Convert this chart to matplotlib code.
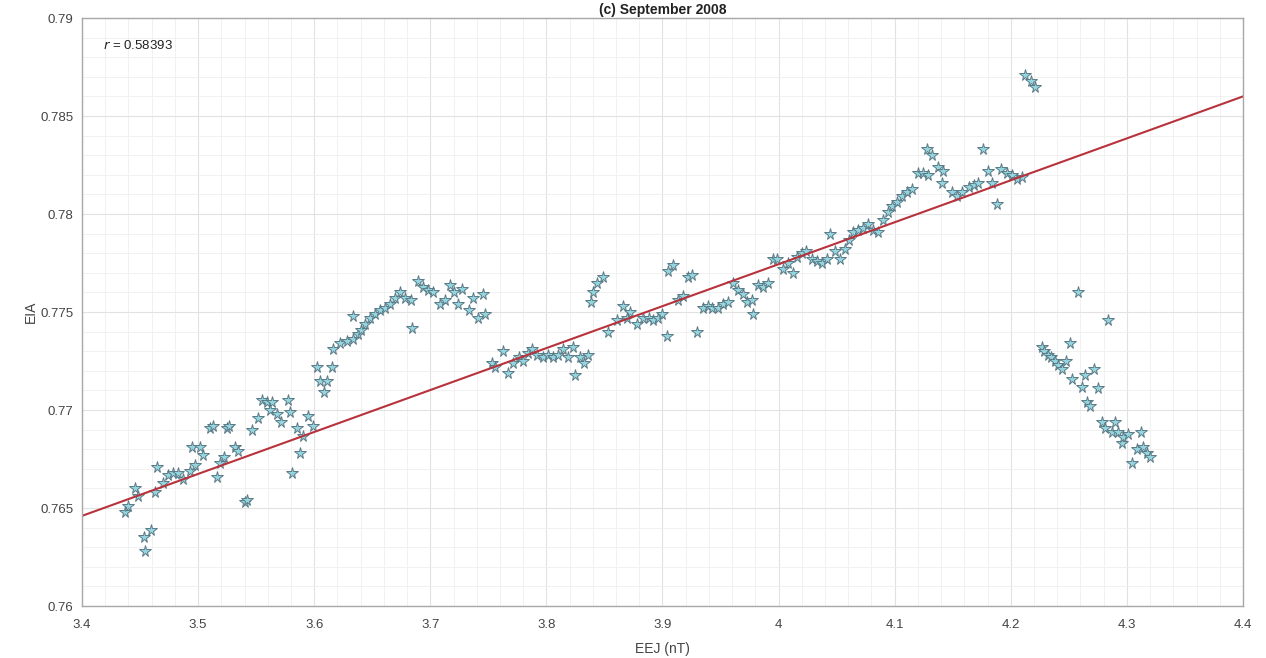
import numpy as np
import matplotlib
matplotlib.use("Agg")
import matplotlib.pyplot as plt
from matplotlib.ticker import MultipleLocator

plt.rcParams['font.family'] = ['Liberation Sans', 'DejaVu Sans']

# EEJ (nT) vs EIA samples, September 2008
eej = [
    3.437, 3.440, 3.446, 3.448, 3.453, 3.459, 3.454, 3.465, 3.463, 3.470,
    3.474, 3.478, 3.483, 3.487, 3.493, 3.497, 3.495, 3.502, 3.504, 3.510,
    3.513, 3.516, 3.519, 3.522, 3.525, 3.527, 3.532, 3.534, 3.540, 3.542,
    3.546, 3.552, 3.555, 3.559, 3.564, 3.562, 3.568, 3.571, 3.577, 3.579,
    3.581, 3.585, 3.588, 3.590, 3.595, 3.599, 3.602, 3.615, 3.605, 3.611,
    3.608, 3.616, 3.622, 3.628, 3.633, 3.633, 3.638,
    3.640, 3.644, 3.648, 3.652, 3.657, 3.661, 3.665, 3.670, 3.674, 3.678,
    3.683, 3.684, 3.689, 3.694, 3.698, 3.702, 3.708, 3.713, 3.717, 3.720,
    3.724, 3.727, 3.733, 3.737, 3.741, 3.745, 3.747,
    3.753, 3.756, 3.763, 3.767, 3.771, 3.776, 3.780, 3.784, 3.788, 3.792,
    3.797, 3.801, 3.806, 3.810, 3.814, 3.819, 3.823, 3.825, 3.829, 3.832,
    3.836, 3.838, 3.840, 3.844, 3.849, 3.853, 3.861,
    3.866, 3.872, 3.869, 3.878, 3.883, 3.888, 3.892, 3.896, 3.900, 3.904,
    3.905, 3.909, 3.913, 3.918, 3.922, 3.925, 3.930, 3.935, 3.939, 3.943,
    3.948, 3.952, 3.956, 3.961, 3.965, 3.969, 3.973, 3.977, 3.978, 3.982,
    3.987, 3.991, 3.995, 3.999, 4.004, 4.008, 4.012, 4.016, 4.020, 4.024,
    4.029, 4.033, 4.037, 4.042, 4.044, 4.049, 4.053, 4.057, 4.061, 4.064,
    4.068, 4.073, 4.077, 4.081, 4.086, 4.090, 4.094,
    4.098, 4.102, 4.106, 4.111, 4.115, 4.120, 4.124, 4.129, 4.128, 4.132,
    4.137, 4.142, 4.141, 4.149, 4.154, 4.158, 4.164, 4.168, 4.172, 4.176,
    4.180, 4.184, 4.188, 4.192, 4.197, 4.201, 4.205, 4.210, 4.212, 4.217,
    4.221,
    4.227, 4.229, 4.232, 4.235, 4.238, 4.241, 4.244, 4.248, 4.251, 4.253,
    4.258, 4.261, 4.264, 4.266, 4.268, 4.272, 4.275, 4.279, 4.281, 4.284,
    4.287, 4.290, 4.292, 4.296, 4.297, 4.301, 4.304, 4.309, 4.312, 4.314,
    4.317, 4.320,
]
eia = [
    0.7648, 0.7651, 0.7660, 0.7656, 0.7635, 0.7639, 0.7628, 0.7671, 0.7658, 0.7663,
    0.7667, 0.7668, 0.7668, 0.7665, 0.7669, 0.7672, 0.7681, 0.7681, 0.7677, 0.7691,
    0.7692, 0.7666, 0.7673, 0.7676, 0.7691, 0.7692, 0.7681, 0.7679, 0.7653, 0.7654,
    0.7690, 0.7696, 0.7705, 0.7704, 0.7704, 0.7700, 0.7698, 0.7694, 0.7705, 0.7699,
    0.7668, 0.7691, 0.7678, 0.7687, 0.7697, 0.7692, 0.7722, 0.7722, 0.7715, 0.7715,
    0.7709, 0.7731, 0.7734, 0.7735, 0.7736, 0.7748, 0.7739,
    0.7741, 0.7744, 0.7747, 0.7749, 0.7751, 0.7752, 0.7754, 0.7757, 0.7760, 0.7757,
    0.7756, 0.7742, 0.7766, 0.7763, 0.7761, 0.7760, 0.7754, 0.7756, 0.7764, 0.7760,
    0.7754, 0.7762, 0.7751, 0.7757, 0.7747, 0.7759, 0.7749,
    0.7724, 0.7722, 0.7730, 0.7719, 0.7724, 0.7727, 0.7725, 0.7729, 0.7731, 0.7728,
    0.7727, 0.7728, 0.7727, 0.7728, 0.7731, 0.7727, 0.7732, 0.7718, 0.7727, 0.7724,
    0.7728, 0.7755, 0.7760, 0.7765, 0.7768, 0.7740, 0.7746,
    0.7753, 0.7750, 0.7747, 0.7744, 0.7747, 0.7747, 0.7746, 0.7747, 0.7749, 0.7738,
    0.7771, 0.7774, 0.7756, 0.7758, 0.7768, 0.7769, 0.7740, 0.7752, 0.7753, 0.7752,
    0.7752, 0.7754, 0.7755, 0.7765, 0.7761, 0.7759, 0.7755, 0.7756, 0.7749, 0.7764,
    0.7763, 0.7765, 0.7777, 0.7777, 0.7772, 0.7775, 0.7770, 0.7778, 0.7780, 0.7781,
    0.7777, 0.7776, 0.7775, 0.7777, 0.7790, 0.7781, 0.7777, 0.7782, 0.7787, 0.7791,
    0.7792, 0.7793, 0.7795, 0.7792, 0.7791, 0.7797, 0.7801,
    0.7804, 0.7806, 0.7809, 0.7811, 0.7813, 0.7821, 0.7821, 0.7820, 0.7833, 0.7830,
    0.7824, 0.7822, 0.7816, 0.7811, 0.7809, 0.7811, 0.7814, 0.7815, 0.7816, 0.7833,
    0.7822, 0.7816, 0.7805, 0.7823, 0.7821, 0.7820, 0.7818, 0.7819, 0.7871, 0.7868,
    0.7865,
    0.7732, 0.7730, 0.7728, 0.7727, 0.7725, 0.7723, 0.7721, 0.7725, 0.7734, 0.7716,
    0.7760, 0.7712, 0.7718, 0.7704, 0.7702, 0.7721, 0.7711, 0.7694, 0.7691, 0.7746,
    0.7689, 0.7694, 0.7689, 0.7683, 0.7686, 0.7688, 0.7673, 0.7680, 0.7689, 0.7681,
    0.7678, 0.7676,
]

# least-squares line shown across the full x range
fit_slope = 0.0214
fit_intercept = 0.7646 - 0.0214 * 3.4
r_value = 0.58393

x = np.array(eej)
y = np.array(eia)

fig = plt.figure(figsize=(12.66, 6.58), dpi=100)
ax = fig.add_axes([0.0648, 0.079, 0.917, 0.8936])

ax.xaxis.set_major_locator(MultipleLocator(0.1))
ax.xaxis.set_minor_locator(MultipleLocator(0.02))
ax.yaxis.set_major_locator(MultipleLocator(0.005))
ax.yaxis.set_minor_locator(MultipleLocator(0.001))
ax.grid(which='major', color='#e2e2e2', linewidth=0.8)
ax.grid(which='minor', color='#efefef', linewidth=0.6)
ax.set_axisbelow(True)

ax.plot(x, y, linestyle='none', marker='*', markersize=8.5,
        markerfacecolor='#94d6e0', markeredgecolor='#5b7a86', markeredgewidth=0.7)

xl = np.array([3.4, 4.4])
ax.plot(xl, fit_slope * xl + fit_intercept, color='#b8323c', linewidth=1.5)

ax.set_xlim(3.4, 4.4)
ax.set_ylim(0.76, 0.79)
ax.set_xticks(np.round(np.arange(3.4, 4.41, 0.1), 1))
ax.set_xticklabels(['3.4', '3.5', '3.6', '3.7', '3.8', '3.9', '4', '4.1', '4.2', '4.3', '4.4'])
ax.set_yticks(np.round(np.arange(0.76, 0.7901, 0.005), 3))
ax.set_yticklabels(['0.76', '0.765', '0.77', '0.775', '0.78', '0.785', '0.79'])
ax.tick_params(which='both', length=0, labelsize=9.5, labelcolor='#444444')
ax.tick_params(axis='x', pad=9)
ax.tick_params(axis='y', pad=6)

for s in ax.spines.values():
    s.set_color('#a8a8a8')
    s.set_linewidth(1.0)

ax.set_title('(c) September 2008', fontsize=10, fontweight='bold', color='#222222', pad=3)
ax.set_xlabel('EEJ (nT)', fontsize=10, color='#444444', labelpad=8)
ax.set_ylabel('EIA', fontsize=10, color='#444444', labelpad=2)
ax.text(0.018, 0.965, r'$r$ = %.5f' % r_value, transform=ax.transAxes,
        fontsize=9.5, color='#222222', va='top', ha='left')

fig.savefig('out.png', dpi=100)
